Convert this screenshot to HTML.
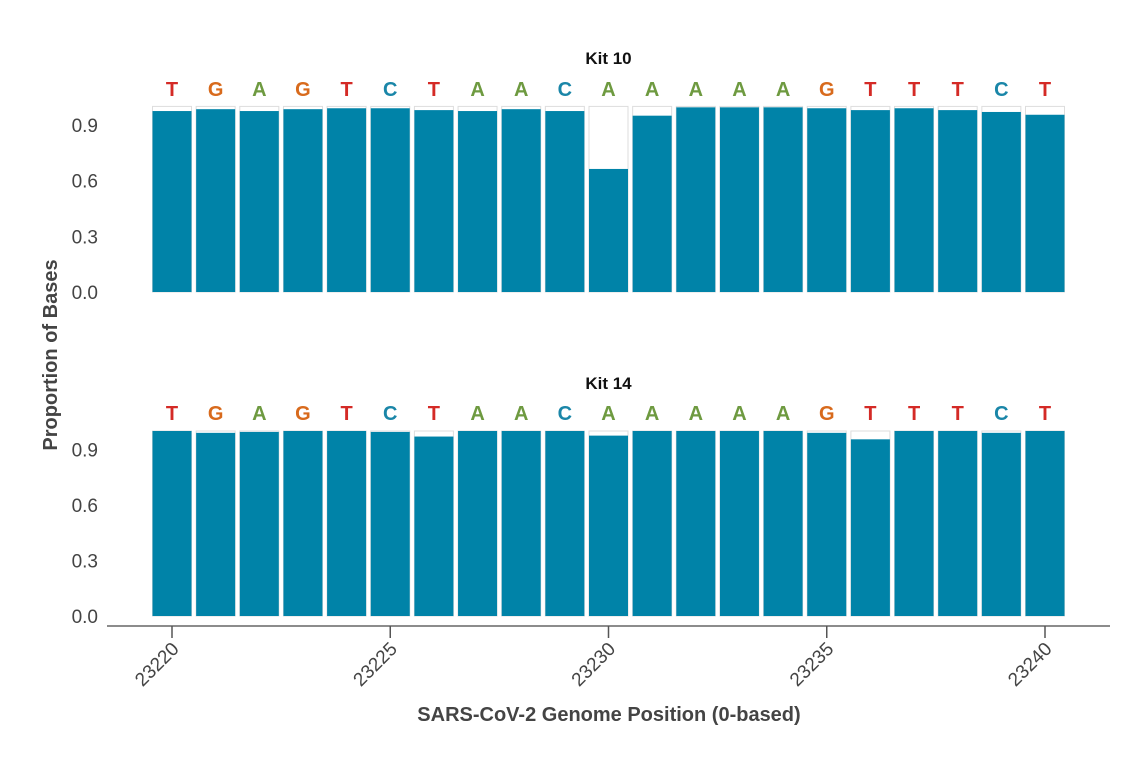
<!DOCTYPE html>
<html><head><meta charset="utf-8"><style>
body{margin:0;background:#fff;}
svg{display:block;font-family:"Liberation Sans",Arial,sans-serif;}
</style></head><body>
<svg id="chart" width="1140" height="765">
<g id="g"></g>
</svg>
<script>
const positions=[23220,23221,23222,23223,23224,23225,23226,23227,23228,23229,23230,23231,23232,23233,23234,23235,23236,23237,23238,23239,23240];
const bases=["T","G","A","G","T","C","T","A","A","C","A","A","A","A","A","G","T","T","T","C","T"];
const kit10=[0.975,0.985,0.975,0.985,0.99,0.99,0.98,0.975,0.985,0.975,0.663,0.95,0.995,0.995,0.995,0.99,0.98,0.99,0.98,0.97,0.955];
const kit14=[1.0,0.99,0.995,1.0,1.0,0.995,0.97,1.0,1.0,1.0,0.975,1.0,1.0,1.0,1.0,0.99,0.955,1.0,1.0,0.99,1.0];
const yTicks=[0.0,0.3,0.6,0.9];
const xTicks=[23220,23225,23230,23235,23240];
const panelTitles=["Kit 10","Kit 14"];
const baseColors={T:"#d42a26",G:"#d86a1c",A:"#6e9a40",C:"#1a86a8"};
const NS="http://www.w3.org/2000/svg";
const g=document.getElementById('g');
function mk(tag,attrs,parent){const e=document.createElementNS(NS,tag);for(const k in attrs)e.setAttribute(k,attrs[k]);(parent||g).appendChild(e);return e;}
function xs(v){return 172+(v-23220)*43.65;}
const panels=[{data:kit10,y0:292,scale:185.6,title:58,letters:88},{data:kit14,y0:616,scale:185,title:383,letters:412}];
const bw=39;
panels.forEach((p,pi)=>{
  const ys=v=>p.y0-v*p.scale;
  const pg=mk('g',{});
  
  
  const t=mk('text',{x:xs(23230),y:p.title+6,'text-anchor':'middle','font-size':17,'font-weight':'bold',fill:'#111'},pg);
  t.textContent=panelTitles[pi];
  
  
  positions.forEach((pos,i)=>{
    const x=xs(pos)-bw/2;
    const bg=mk('rect',{x:x,y:ys(1),width:bw,height:p.scale,fill:'#fff',stroke:'#ddd','stroke-width':1},pg);
    
    
    const r=mk('rect',{x:x,y:ys(p.data[i]),width:bw,height:p.data[i]*p.scale,fill:'#0083a8'},pg);
    
    
    const l=mk('text',{x:xs(pos),y:p.letters+8,'text-anchor':'middle','font-size':20,'font-weight':'bold',fill:baseColors[bases[i]]},pg);
    l.textContent=bases[i];
    
    
  });
  yTicks.forEach(v=>{
    const tt=mk('text',{x:98,y:ys(v)+7,'text-anchor':'end','font-size':19,fill:'#444'},pg);
    tt.textContent=v.toFixed(1);
    
    
  });
});
const ax=mk('line',{x1:107,x2:1110,y1:626,y2:626,stroke:'#666','stroke-width':1.5});


xTicks.forEach(v=>{
  const tk=mk('line',{x1:xs(v),x2:xs(v),y1:626,y2:638,stroke:'#555','stroke-width':1.5});
  
  
  const tl=mk('text',{x:xs(v)+8,y:650,'text-anchor':'end','font-size':19,fill:'#444',transform:`rotate(-45 ${xs(v)+8} 650)`});
  tl.textContent=v;
  
  
});
const xl=mk('text',{x:609,y:721,'text-anchor':'middle','font-size':20,'font-weight':'bold',fill:'#444'});
xl.textContent='SARS-CoV-2 Genome Position (0-based)';


const yl=mk('text',{x:57,y:355,'text-anchor':'middle','font-size':20,'font-weight':'bold',fill:'#444',transform:'rotate(-90 57 355)'});
yl.textContent='Proportion of Bases';


</script>
</body></html>
